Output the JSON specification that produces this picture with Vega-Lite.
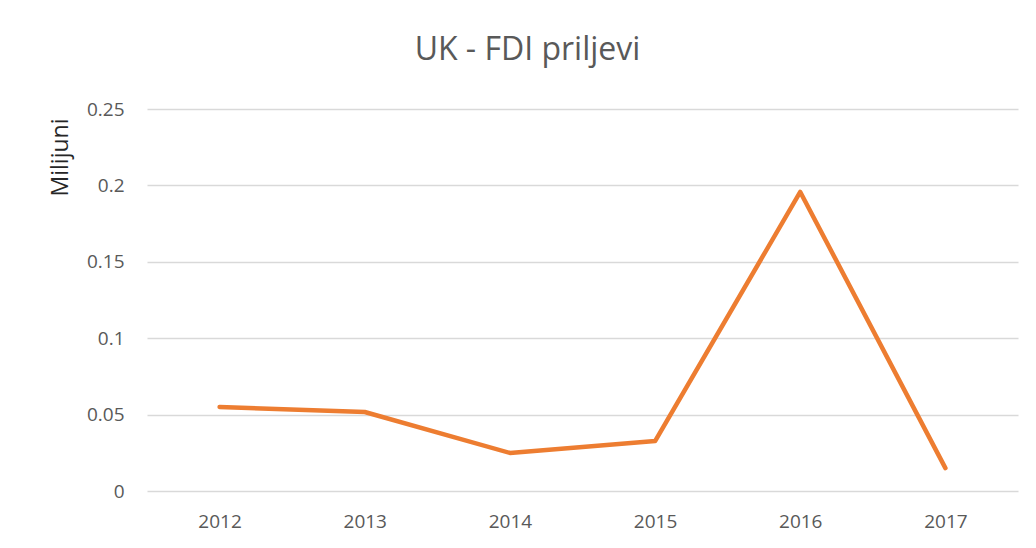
{
  "$schema": "https://vega.github.io/schema/vega-lite/v6.json",
  "width": 871,
  "height": 382,
  "autosize": {"type": "none"},
  "padding": {"left": 147, "top": 109, "right": 18, "bottom": 57},
  "background": "white",
  "title": {
    "text": "UK - FDI priljevi",
    "fontSize": 32,
    "font": "Open Sans",
    "fontWeight": "normal",
    "color": "#595959",
    "anchor": "middle",
    "dx": -55,
    "offset": 33
  },
  "data": {
    "values": [
      {"year": "2012", "value": 0.055},
      {"year": "2013", "value": 0.0517},
      {"year": "2014", "value": 0.0249},
      {"year": "2015", "value": 0.0327},
      {"year": "2016", "value": 0.1957},
      {"year": "2017", "value": 0.015}
    ]
  },
  "mark": {"type": "line", "color": "#ED7D31", "strokeWidth": 4.5, "strokeCap": "round", "strokeJoin": "round"},
  "encoding": {
    "x": {
      "field": "year",
      "type": "ordinal",
      "scale": {"type": "point", "padding": 0.5},
      "axis": {
        "title": null,
        "labelAngle": 0,
        "ticks": false,
        "domain": false,
        "grid": false,
        "labelPadding": 21,
        "labelFontSize": 19,
        "labelFont": "Open Sans",
        "labelColor": "#595959"
      }
    },
    "y": {
      "field": "value",
      "type": "quantitative",
      "scale": {"domain": [0, 0.25], "nice": false},
      "axis": {
        "title": "Milijuni",
        "titleFont": "Open Sans",
        "titleFontSize": 23,
        "titleFontWeight": "normal",
        "titleColor": "#262626",
        "titleAnchor": "end",
        "titleY": 9,
        "titlePadding": 14,
        "values": [0, 0.05, 0.1, 0.15, 0.2, 0.25],
        "labelExpr": "datum.value == 0 ? '0' : format(datum.value, '.2~f')",
        "ticks": false,
        "domain": false,
        "grid": true,
        "gridColor": "#d9d9d9",
        "gridWidth": 1.4,
        "labelPadding": 23,
        "labelFontSize": 19,
        "labelFont": "Open Sans",
        "labelColor": "#595959"
      }
    }
  },
  "config": {"view": {"stroke": null}}
}
